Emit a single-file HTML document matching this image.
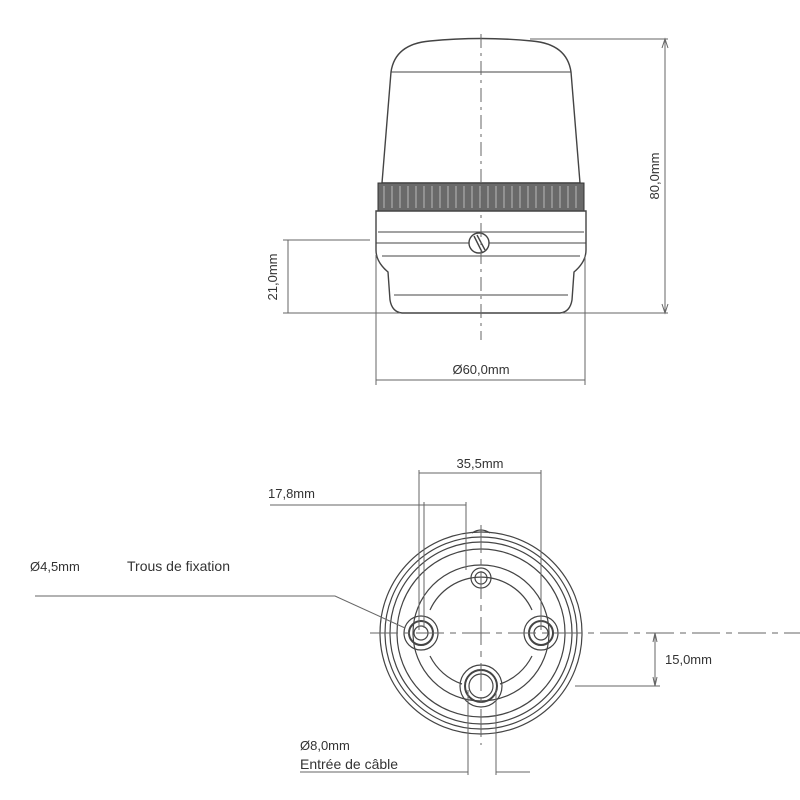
<!DOCTYPE html><html><head><style>body{margin:0;background:#fff}svg{display:block}text{font-family:"Liberation Sans",sans-serif;fill:#333;stroke:none}</style></head><body>
<svg width="800" height="800" viewBox="0 0 800 800" fill="none" stroke="#444" stroke-width="1">
<path d="M391,72 Q395,44 430,41 Q481,36 532,41 Q567,44 571,72 L580,183 L382,183 Z" stroke-width="1.4"/>
<line x1="391" y1="72" x2="571" y2="72"/>
<rect x="378" y="183" width="206" height="28" fill="#6a6a6a" stroke="#333"/>
<g stroke="#ccc" stroke-width="0.8">
<path d="M384,186V208M392,186V208M400,186V208M408,186V208M416,186V208M424,186V208M432,186V208M440,186V208M448,186V208M456,186V208M464,186V208M472,186V208M480,186V208M488,186V208M496,186V208M504,186V208M512,186V208M520,186V208M528,186V208M536,186V208M544,186V208M552,186V208M560,186V208M568,186V208M576,186V208"/></g>
<path d="M376,211 L586,211 L586,250 Q586,262 574,272 L572,300 Q570,312 560,313 L402,313 Q392,312 390,300 L388,272 Q376,262 376,250 Z" stroke-width="1.4"/>
<line x1="378" y1="232" x2="584" y2="232"/><line x1="376" y1="243" x2="586" y2="243"/><line x1="382" y1="256" x2="580" y2="256"/><line x1="394" y1="295" x2="568" y2="295"/>
<circle cx="479" cy="243" r="10" fill="#fff" stroke-width="1.4"/><path d="M474,236 L482,252 M477,235 L485,250" stroke-width="1.4"/>
<line x1="481" y1="34" x2="481" y2="340" stroke-dasharray="14,5,3,5" stroke="#666"/>
<path d="M530,39 L668,39 M562,313 L668,313 M665,39 V313" stroke="#666"/>
<path d="M662,48 L665,39 L668,48 M662,304 L665,313 L668,304" stroke="#666"/>
<path d="M283,240 L370,240 M283,313 L400,313 M288,240 V313 M376,255 V385 M585,255 V385 M376,380 H585" stroke="#666"/>
<text x="659" y="176" font-size="13" transform="rotate(-90 659 176)" text-anchor="middle">80,0mm</text>
<text x="277" y="277" font-size="13" transform="rotate(-90 277 277)" text-anchor="middle">21,0mm</text>
<text x="481" y="374" font-size="13" text-anchor="middle">Ø60,0mm</text>
<g stroke-width="1.2">
<circle cx="481" cy="633" r="101"/><circle cx="481" cy="633" r="96"/><circle cx="481" cy="633" r="91"/><circle cx="481" cy="633" r="84"/>
<circle cx="481" cy="633" r="68"/>
<path d="M430,610 A56,56 0 0 1 532,610 M532,656 A56,56 0 0 1 500,684 M462,684 A56,56 0 0 1 430,656"/>
<circle cx="421" cy="633" r="17"/><circle cx="421" cy="633" r="12" stroke-width="2"/><circle cx="421" cy="633" r="7"/>
<circle cx="541" cy="633" r="17"/><circle cx="541" cy="633" r="12" stroke-width="2"/><circle cx="541" cy="633" r="7"/>
<circle cx="481" cy="686" r="21"/><circle cx="481" cy="686" r="16" stroke-width="2"/><circle cx="481" cy="686" r="12"/>
<circle cx="481" cy="578" r="10"/><circle cx="481" cy="578" r="6"/>
<path d="M472,533 Q481,527 490,533"/>
</g>
<g stroke="#666">
<line x1="370" y1="633" x2="800" y2="633" stroke-dasharray="28,6,6,6"/>
<line x1="481" y1="525" x2="481" y2="745" stroke-dasharray="28,6,6,6"/>
<path d="M419,470 V630 M541,470 V630 M419,473 H541 M424,502 V628 M466,502 V570 M424,505 H466 M270,505 H424"/>
<path d="M575,686 H660 M655,633 V686 M653,642 L655,633 L657,642 M653,677 L655,686 L657,677"/>
<path d="M468,690 V775 M496,690 V775 M300,772 H468 M496,772 H530"/>
<path d="M35,596 L335,596 L405,628"/>
</g>
<text x="480" y="468" font-size="13" text-anchor="middle">35,5mm</text>
<text x="268" y="498" font-size="13">17,8mm</text>
<text x="30" y="571" font-size="13">Ø4,5mm</text>
<text x="127" y="571" font-size="14">Trous de fixation</text>
<text x="665" y="664" font-size="13">15,0mm</text>
<text x="300" y="750" font-size="13">Ø8,0mm</text>
<text x="300" y="769" font-size="14">Entrée de câble</text>
</svg></body></html>
